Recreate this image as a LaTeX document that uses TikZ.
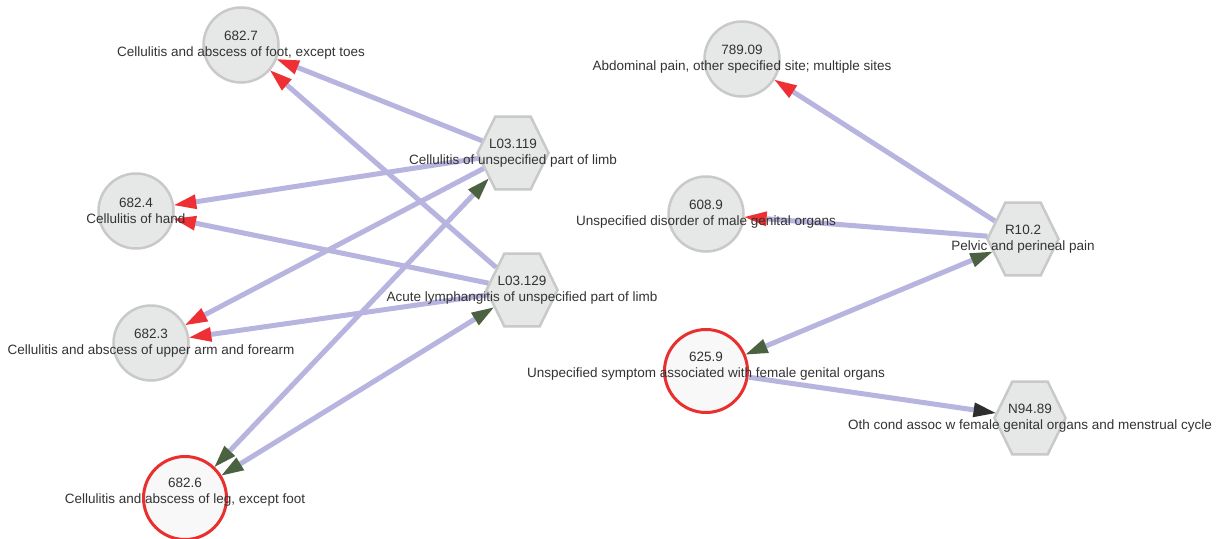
\documentclass[tikz,border=0pt]{standalone}
\usepackage{fontspec}
\setmainfont{Liberation Sans}
\usetikzlibrary{shapes.geometric,arrows.meta}
\definecolor{nodegrey}{HTML}{E6E7E7}
\definecolor{rimgrey}{HTML}{C9C9C9}
\definecolor{rimred}{HTML}{E8312F}
\definecolor{palefill}{HTML}{F8F8F8}
\definecolor{linkblue}{HTML}{B7B4DF}
\definecolor{tipred}{HTML}{EE3034}
\definecolor{tipgreen}{HTML}{4A6240}
\definecolor{tipdark}{HTML}{2E2E2E}
\definecolor{labelgrey}{HTML}{333333}
\tikzset{
  code/.style={circle, draw=rimgrey, fill=nodegrey, line width=2.5pt,
    minimum size=75pt, inner sep=0pt},
  hitcode/.style={circle, draw=rimred, fill=palefill, line width=3pt,
    minimum size=83pt, inner sep=0pt},
  hexcode/.style={regular polygon, regular polygon sides=6, draw=rimgrey,
    fill=nodegrey, line width=2.5pt, minimum size=71pt, inner sep=0pt, yscale=1.18},
  caption/.style={align=center, text=labelgrey, inner sep=0pt,
    font=\fontsize{13.5}{16}\selectfont},
  link/.style={draw=linkblue, line width=5pt},
  toout/.style={link, -{Triangle[length=22pt,width=15pt,line width=0pt,color=tipred]}},
  twoway/.style={link, {Triangle[length=22pt,width=15pt,line width=0pt,color=tipgreen]}-{Triangle[length=22pt,width=15pt,line width=0pt,color=tipgreen]}},
  onward/.style={link, -{Triangle[length=22pt,width=15pt,line width=0pt,color=tipdark]}}
}
\begin{document}
\begin{tikzpicture}[x=1pt, y=-1pt]
  \fill[white] (0,0) rectangle (1223,538);
  \useasboundingbox (0,0) rectangle (1223,538);
  % codes
  \node[code] (n6827) at (241,45) {};
  \node[code] (n6824) at (136,211) {};
  \node[code] (n6823) at (151,343) {};
  \node[hitcode] (n6826) at (185,498) {};
  \node[code] (n7890) at (742,59) {};
  \node[code] (n6089) at (706,214) {};
  \node[hitcode] (n6259) at (706,371) {};
  \node[hexcode] (hL119) at (513,153) {};
  \node[hexcode] (hL129) at (522,290) {};
  \node[hexcode] (hR102) at (1023,239) {};
  \node[hexcode] (hN9489) at (1030,418) {};
  % mappings
  \foreach \a/\b in {hL119/n6827, hL129/n6827, hL119/n6824, hL129/n6824,
    hL119/n6823, hL129/n6823, hR102/n7890, hR102/n6089}
    \draw[toout] (\a) -- (\b);
  \foreach \a/\b in {n6826/hL119, n6826/hL129, n6259/hR102}
    \draw[twoway] (\a) -- (\b);
  \draw[onward] (n6259) -- (hN9489);
  % captions
  \node[caption] (t6827) at (n6827) {682.7\\Cellulitis and abscess of foot, except toes};
  \node[caption] (t6824) at (n6824) {682.4\\Cellulitis of hand};
  \node[caption] (t6823) at (n6823) {682.3\\Cellulitis and abscess of upper arm and forearm};
  \node[caption] (t6826) at ([yshift=6pt]n6826.center) {682.6\\Cellulitis and abscess of leg, except foot};
  \node[caption] (t7890) at (n7890) {789.09\\Abdominal pain, other specified site; multiple sites};
  \node[caption] (t6089) at (n6089) {608.9\\Unspecified disorder of male genital organs};
  \node[caption] (t6259) at ([yshift=5pt]n6259.center) {625.9\\Unspecified symptom associated with female genital organs};
  \node[caption] (tL119) at (hL119) {L03.119\\Cellulitis of unspecified part of limb};
  \node[caption] (tL129) at (hL129) {L03.129\\Acute lymphangitis of unspecified part of limb};
  \node[caption] (tR102) at (hR102) {R10.2\\Pelvic and perineal pain};
  \node[caption] (tN9489) at (hN9489) {N94.89\\Oth cond assoc w female genital organs and menstrual cycle};
\end{tikzpicture}
\end{document}
